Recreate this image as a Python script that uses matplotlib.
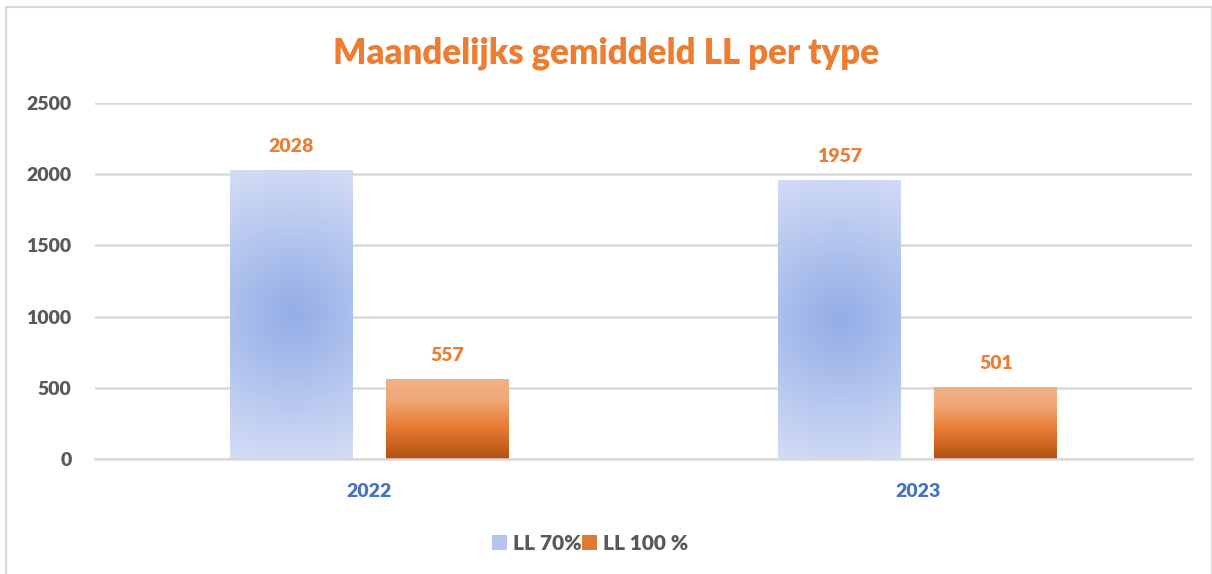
import matplotlib.pyplot as plt
import numpy as np
from matplotlib.patches import Rectangle

# Data
years = ["2022", "2023"]
ll_70 = [2028, 1957]
ll_100 = [557, 501]
series_names = ["LL 70%", "LL 100 %"]

plt.rcParams['font.family'] = ['Lato', 'DejaVu Sans']

fig = plt.figure(figsize=(12.12, 5.74), dpi=100)
ax = fig.add_axes([0.0784, 0.2003, 0.9051, 0.6203])

x = np.arange(len(years))
width = 0.224
off = 0.1425

ax.set_xlim(-0.5, 1.5)
ax.set_ylim(0, 2500)

# pixel scale of the data axes (for circular gradient)
px_x = 0.9051 * 1212 / 2.0
px_y = 0.6203 * 574 / 2500

c_in = np.array([0x93, 0xad, 0xe7]) / 255
c_out = np.array([0xd8, 0xe0, 0xf6]) / 255


def radial_img(w_px, h_px, radius):
    ys, xs = np.mgrid[0:int(h_px), 0:int(w_px)]
    d = np.sqrt((xs - w_px / 2) ** 2 + (ys - h_px / 2) ** 2) / radius
    r = np.clip(d, 0, 1)[..., None]
    return c_in * (1 - r) + c_out * r


stops = [(0.0, (0xf2, 0xb1, 0x86)), (0.25, (0xf0, 0xa8, 0x78)), (0.6, (0xe8, 0x7b, 0x31)), (1.0, (0xb0, 0x50, 0x10))]
t = np.linspace(0, 1, 200)
orange = np.zeros((200, 1, 3))
for ch in range(3):
    orange[:, 0, ch] = np.interp(t, [s[0] for s in stops], [s[1][ch] / 255 for s in stops])
orange_img = np.repeat(orange, 20, axis=1)

bars1 = ax.bar(x - off, ll_70, width, color='none', label=series_names[0])
bars2 = ax.bar(x + off, ll_100, width, color='none', label=series_names[1])

for b in bars1:
    x0, h = b.get_x(), b.get_height()
    img = radial_img(width * px_x, h * px_y, 165)
    ax.imshow(img, extent=(x0, x0 + width, 0, h), aspect='auto', origin='lower', zorder=2)
for b in bars2:
    x0, h = b.get_x(), b.get_height()
    ax.imshow(orange_img, extent=(x0, x0 + width, 0, h), aspect='auto', origin='upper', zorder=2)

for bars, vals in [(bars1, ll_70), (bars2, ll_100)]:
    for b, v in zip(bars, vals):
        ax.text(b.get_x() + width / 2, v + 110, str(v), ha='center', va='bottom',
                color='#ED7D31', fontsize=14, fontweight='heavy')

ax.set_yticks(range(0, 2501, 500))
ax.set_xticks(x)
ax.set_xticklabels(years, color='#4472C4', fontsize=14, fontweight='heavy')
for lab in ax.get_yticklabels():
    lab.set_color('#595959')
    lab.set_fontsize(14)
    lab.set_fontweight('heavy')
ax.tick_params(axis='both', length=0)
ax.tick_params(axis='y', pad=17)
ax.tick_params(axis='x', pad=17)
ax.grid(axis='y', color='#d9d9d9', linewidth=1.8)
ax.set_axisbelow(True)
for s in ['top', 'right', 'left']:
    ax.spines[s].set_visible(False)
ax.spines['bottom'].set_color('#d9d9d9')
ax.spines['bottom'].set_linewidth(1.8)

fig.text(0.5, 0.908, "Maandelijks gemiddeld LL per type", ha='center', va='center',
         color='#ED7D31', fontsize=25, fontweight='heavy')

h1 = Rectangle((0, 0), 1, 1, facecolor='#b4c4ee')
h2 = Rectangle((0, 0), 1, 1, facecolor='#e07a30')
leg = fig.legend([h1, h2], series_names, loc='center', bbox_to_anchor=(0.487, 0.054), ncol=2,
                 frameon=False, handlelength=0.7, handleheight=0.7, handletextpad=0.3,
                 columnspacing=0.0, prop={'size': 15, 'weight': 'heavy'})
for txt in leg.get_texts():
    txt.set_color('#595959')

fig.add_artist(Rectangle((0.005, -0.01), 0.995, 0.998, transform=fig.transFigure,
                         fill=False, edgecolor='#d9d9d9', linewidth=1.5))

fig.savefig('out.png', dpi=100)
